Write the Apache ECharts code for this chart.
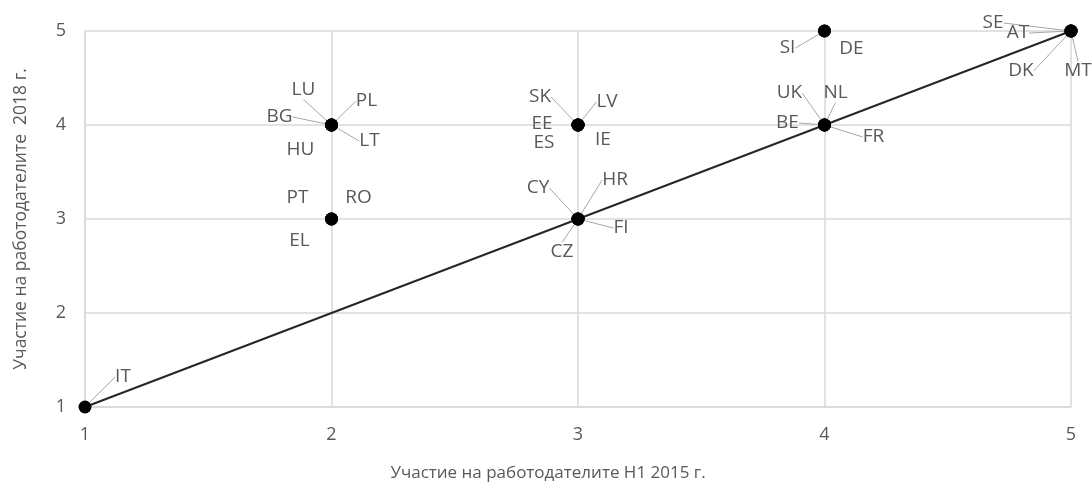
<!DOCTYPE html>
<html><head><meta charset="utf-8">
<script src="https://cdn.jsdelivr.net/npm/echarts@6/dist/echarts.min.js"></script>
<style>html,body{margin:0;padding:0;background:#fff}#c{width:1092px;height:494px}</style>
</head><body><div id="c"></div>
<script>
var countries = ['IT','LU','PL','BG','LT','HU','PT','RO','EL','SK','LV','EE','IE','ES','CY','HR','FI','CZ','SI','DE','UK','NL','BE','FR','SE','AT','DK','MT'];
var score2015 = [1,2,2,2,2,2,2,2,2,3,3,3,3,3,3,3,3,3,4,4,4,4,4,4,5,5,5,5];
var score2018 = [1,4,4,4,4,4,3,3,3,4,4,4,4,4,3,3,3,3,5,5,4,4,4,4,5,5,5,5];
var xTicks = [1,2,3,4,5];
var yTicks = [1,2,3,4,5];
var diagonal = [[1,1],[5,5]];

// label offsets (px) relative to the marker, and which labels have leader lines
var labelOffset = {
  IT:[38,-30], LU:[-28,-35], PL:[35,-24], BG:[-52,-8], LT:[38,16], HU:[-31,25],
  PT:[-34,-21], RO:[27,-21], EL:[-32,22],
  SK:[-38,-28], LV:[29,-23], EE:[-36,-1], IE:[25,15], ES:[-34,18],
  CY:[-40,-31], HR:[37,-39], FI:[43,9], CZ:[-16,33],
  SI:[-37,17], DE:[27,18],
  UK:[-35,-32], NL:[11,-32], BE:[-37,-2], FR:[49,12],
  SE:[-78,-8], AT:[-53,2], DK:[-50,40], MT:[7,40]
};
var withLeader = ['IT','LU','PL','BG','LT','SK','LV','CY','HR','FI','CZ','SI','UK','NL','BE','FR','SE','AT','DK','MT'];

var points = countries.map(function(c,i){
  return {name:c, value:[score2015[i], score2018[i]], labelLine:{show: withLeader.indexOf(c) >= 0}};
});

var chart = echarts.init(document.getElementById('c'));
var font = 'Open Sans';
chart.setOption({
  animation:false,
  grid:{left:85, right:21, top:31, bottom:87, containLabel:false, outerBoundsMode:'none'},
  xAxis:{
    type:'value', min:1, max:5, interval:1,
    name:'Участие на работодателите H1 2015 г.', nameLocation:'middle', nameGap:58,
    nameTextStyle:{fontFamily:font, fontSize:17, color:'#595959', padding:[0,60,0,0]},
    axisLine:{show:true, lineStyle:{color:'#d9d9d9', width:1.5}},
    axisTick:{show:false},
    axisLabel:{fontFamily:font, fontSize:18, color:'#595959', margin:19,
      formatter:function(v){return xTicks.indexOf(v)>=0 ? String(v) : '';}},
    splitLine:{show:true, lineStyle:{color:'#d9d9d9', width:1.5}}
  },
  yAxis:{
    type:'value', min:1, max:5, interval:1,
    name:'Участие на работодателите  2018 г.', nameLocation:'middle', nameGap:55,
    nameTextStyle:{fontFamily:font, fontSize:17.5, color:'#595959'},
    axisLine:{show:true, lineStyle:{color:'#d9d9d9', width:1.5}},
    axisTick:{show:false},
    axisLabel:{fontFamily:font, fontSize:18, color:'#595959', margin:19,
      formatter:function(v){return yTicks.indexOf(v)>=0 ? String(v) : '';}},
    splitLine:{show:true, lineStyle:{color:'#d9d9d9', width:1.5}}
  },
  series:[
    {
      type:'line', data:diagonal, symbol:'none', silent:true, clip:false,
      lineStyle:{color:'#262626', width:2}, z:3
    },
    {
      type:'scatter', data:points, symbol:'circle', symbolSize:13, clip:false,
      itemStyle:{color:'#000', opacity:1}, z:4,
      label:{show:true, formatter:'{b}', fontFamily:font, fontSize:19, color:'#595959', position:'inside'},
      labelLine:{show:true, lineStyle:{color:'#a6a6a6', width:1}},
      labelLayout:function(p){
        var name = countries[p.dataIndex];
        var o = labelOffset[name] || [0,0];
        var cx = p.rect.x + p.rect.width/2, cy = p.rect.y + p.rect.height/2;
        return {x: cx + o[0], y: cy + o[1], align:'center', verticalAlign:'middle'};
      }
    }
  ]
});
</script></body></html>
